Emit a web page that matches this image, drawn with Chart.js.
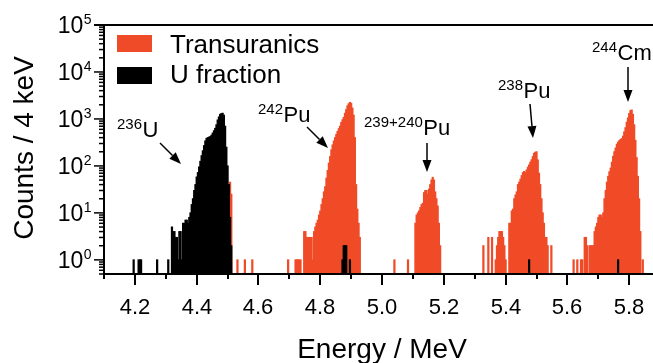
<!DOCTYPE html>
<html>
<head>
<meta charset="utf-8">
<script src="https://cdn.jsdelivr.net/npm/chart.js@4.4.1/dist/chart.umd.min.js"></script>
<style>
  html, body { margin: 0; padding: 0; background: #fff; }
  #wrap { width: 653px; height: 363px; }
</style>
</head>
<body>
<div id="wrap"><canvas id="mychart" width="653" height="363"></canvas></div>
<script>
// counts per 4 keV bin
// U fraction: main 236U peak, first bin at 4.320 MeV
const uStart = 4.320;
const uCounts = [5, 4, 4, 3, 3, 1, 4, 4, 1, 6, 6, 7, 7, 6, 8, 10, 15, 20, 30, 40,
  58, 72, 95, 125, 165, 210, 270, 340, 385, 400, 410, 420, 450, 500, 560, 630, 750, 950, 1100, 1250,
  1300, 1320, 1200, 700, 250, 100, 40, 8, 2];
// stray U counts
const uExtraE = [4.196, 4.212, 4.216, 4.220, 4.272, 4.308, 4.872, 4.876, 4.880, 4.884, 4.896, 5.476, 5.764];
const uExtraN = [1, 1, 1, 1, 1, 1, 1, 2, 2, 2, 1, 1, 1];

// Transuranics
const pu242Start = 4.748;
const pu242Counts = [4, 4, 3, 3, 3, 3, 3, 1, 4, 5, 6, 7, 9, 11, 15, 20, 28, 36, 55, 80,
  115, 158, 220, 280, 340, 400, 470, 540, 620, 700, 840, 960, 1080, 1320, 1580, 1900, 2100, 2250, 2150, 1700,
  1200, 400, 40, 12, 6, 3];
const pu239Start = 5.108;
const pu239Counts = [6, 9, 10, 11, 13, 15, 16, 27, 30, 30, 25, 32, 40, 50, 57, 50, 28, 20, 14, 6, 2];
const pu238Start = 5.328;
const pu238Counts = [2, 0, 0, 0, 3, 0, 0, 3, 0, 0, 1, 2, 3, 4, 4, 4, 3, 2, 1, 0,
  0, 6, 6, 11, 12, 20, 24, 28, 40, 45, 52, 62, 72, 76, 72, 82, 94, 105, 120, 135,
  158, 185, 195, 200, 134, 70, 40, 20, 10, 6, 3, 3, 2, 0, 0, 2];
const cm244Start = 5.620;
const cm244Counts = [1, 0, 0, 1, 0, 0, 1, 1, 0, 3, 3, 2, 0, 2, 2, 2, 2, 4, 5, 6,
  8, 9, 9, 8, 10, 20, 30, 45, 60, 75, 90, 120, 160, 200, 240, 290, 320, 345, 365, 380,
  430, 530, 650, 850, 1050, 1300, 1500, 1550, 1250, 750, 350, 150, 60, 20, 4, 0, 1];
const tuExtraE = [4.508, 4.512, 4.532, 4.556, 4.580, 4.696, 4.720, 4.724, 4.728, 4.732, 4.736, 5.040, 5.084];
const tuExtraN = [45, 25, 1, 1, 1, 1, 1, 1, 1, 1, 1, 1, 1];

// axes
const xMajor = [4.2, 4.4, 4.6, 4.8, 5.0, 5.2, 5.4, 5.6, 5.8];
const xMajorLabels = ['4.2', '4.4', '4.6', '4.8', '5.0', '5.2', '5.4', '5.6', '5.8'];
const xMinor = [4.1, 4.3, 4.5, 4.7, 4.9, 5.1, 5.3, 5.5, 5.7];
const yDecades = [0, 1, 2, 3, 4, 5];

const binWidth = 0.004;
const RED = '#F04B28';
const FONT = '"Liberation Sans", Arial, sans-serif';

const bin = e => Math.round(e * 1000) / 1000;

function addPeak(out, start, counts) {
  counts.forEach((n, i) => {
    if (n > 0) out.push({ x: bin(start + i * binWidth), y: n });
  });
}
function addExtra(out, es, ns) {
  es.forEach((e, i) => out.push({ x: bin(e), y: ns[i] }));
}

var uData = [];
addPeak(uData, uStart, uCounts);
addExtra(uData, uExtraE, uExtraN);

var tuData = [];
addPeak(tuData, pu242Start, pu242Counts);
addPeak(tuData, pu239Start, pu239Counts);
addPeak(tuData, pu238Start, pu238Counts);
addPeak(tuData, cm244Start, cm244Counts);
addExtra(tuData, tuExtraE, tuExtraN);

function supText(ctx, sup, main, x, y, supPx, mainPx) {
  ctx.font = supPx + 'px ' + FONT;
  ctx.fillText(sup, x, y - 8);
  var w = ctx.measureText(sup).width;
  ctx.font = mainPx + 'px ' + FONT;
  ctx.fillText(main, x + w + 0.5, y);
}

function arrow(ctx, x1, y1, x2, y2) {
  var ang = Math.atan2(y2 - y1, x2 - x1);
  var hl = 12, hw = 4.5;
  var bx = x2 - hl * Math.cos(ang), by = y2 - hl * Math.sin(ang);
  ctx.lineWidth = 1.5;
  ctx.beginPath();
  ctx.moveTo(x1, y1);
  ctx.lineTo(bx, by);
  ctx.stroke();
  ctx.beginPath();
  ctx.moveTo(x2, y2);
  ctx.lineTo(bx + hw * Math.sin(ang), by - hw * Math.cos(ang));
  ctx.lineTo(bx - hw * Math.sin(ang), by + hw * Math.cos(ang));
  ctx.closePath();
  ctx.fill();
}

const decorations = {
  id: 'decorations',
  afterDraw(chart) {
    const ctx = chart.ctx;
    const xs = chart.scales.x, ys = chart.scales.y;
    const a = chart.chartArea;
    ctx.save();
    ctx.fillStyle = '#000';
    ctx.strokeStyle = '#000';

    // frame
    ctx.lineWidth = 2;
    ctx.beginPath();
    ctx.moveTo(a.left - 1, a.top); ctx.lineTo(a.right, a.top);
    ctx.moveTo(a.left, a.top); ctx.lineTo(a.left, a.bottom + 1);
    ctx.moveTo(a.left - 1, a.bottom); ctx.lineTo(a.right, a.bottom);
    ctx.stroke();

    // x ticks
    ctx.textAlign = 'center';
    ctx.textBaseline = 'alphabetic';
    ctx.font = '22px ' + FONT;
    xMajor.forEach((v, i) => {
      const px = Math.round(xs.getPixelForValue(v));
      ctx.beginPath(); ctx.moveTo(px, a.bottom); ctx.lineTo(px, a.bottom + 11); ctx.stroke();
      ctx.fillText(xMajorLabels[i], px, 314);
    });
    xMinor.forEach(v => {
      const px = Math.round(xs.getPixelForValue(v));
      ctx.beginPath(); ctx.moveTo(px, a.bottom); ctx.lineTo(px, a.bottom + 5); ctx.stroke();
    });

    // y ticks
    ctx.lineWidth = 1.5;
    for (let d = -1; d <= 4; d++) {
      for (let k = 1; k <= 9; k++) {
        const v = k * Math.pow(10, d);
        if (v < ys.min || v > ys.max) continue;
        const py = ys.getPixelForValue(v);
        const len = k === 1 ? 10 : 5;
        ctx.beginPath(); ctx.moveTo(a.left, py); ctx.lineTo(a.left - len, py); ctx.stroke();
      }
    }
    ctx.lineWidth = 2;
    ctx.beginPath();
    const ptop = ys.getPixelForValue(1e5);
    ctx.moveTo(a.left, ptop); ctx.lineTo(a.left - 10, ptop); ctx.stroke();

    ctx.textAlign = 'left';
    yDecades.forEach(e => {
      const py = ys.getPixelForValue(Math.pow(10, e));
      ctx.font = '14px ' + FONT;
      const ws = ctx.measureText(String(e)).width;
      ctx.font = '23px ' + FONT;
      const wb = ctx.measureText('10').width;
      const x0 = 91 - ws - wb;
      ctx.fillText('10', x0, py + 8);
      ctx.font = '14px ' + FONT;
      ctx.fillText(String(e), x0 + wb + 0.5, py - 1);
    });

    // axis titles
    ctx.font = '28px ' + FONT;
    ctx.textAlign = 'center';
    ctx.fillText('Energy / MeV', 382, 358);
    ctx.save();
    ctx.translate(33, 148);
    ctx.rotate(-Math.PI / 2);
    ctx.fillText('Counts / 4 keV', 0, 0);
    ctx.restore();

    // legend
    ctx.textAlign = 'left';
    ctx.fillStyle = RED;
    ctx.fillRect(117, 35, 35, 17);
    ctx.fillStyle = '#000';
    ctx.fillRect(117, 67, 35, 17);
    ctx.font = '26px ' + FONT;
    ctx.fillText('Transuranics', 170, 53);
    ctx.fillText('U fraction', 170, 83);

    // peak labels
    supText(ctx, '236', 'U', 117, 137, 15, 22);
    supText(ctx, '242', 'Pu', 258, 122, 15, 22);
    supText(ctx, '239+240', 'Pu', 364, 135, 15, 22);
    supText(ctx, '238', 'Pu', 498, 98, 15, 22);
    supText(ctx, '244', 'Cm', 592, 60, 15, 22);

    arrow(ctx, 160, 143, 181, 164);
    arrow(ctx, 307, 127, 328, 148);
    arrow(ctx, 427, 143, 427, 172);
    arrow(ctx, 530, 104, 533, 138);
    arrow(ctx, 628, 67, 628, 102);

    ctx.restore();
  }
};

var ctx = document.getElementById('mychart');
var myChart = new Chart(ctx, {
  type: 'bar',
  data: {
    datasets: [
      {
        label: 'U fraction',
        data: uData,
        backgroundColor: '#000000',
        borderWidth: 0,
        inflateAmount: 0.5,
        grouped: false,
        barPercentage: 1,
        categoryPercentage: 1
      },
      {
        label: 'Transuranics',
        data: tuData,
        backgroundColor: RED,
        borderWidth: 0,
        inflateAmount: 0.5,
        grouped: false,
        barPercentage: 1,
        categoryPercentage: 1
      }
    ]
  },
  options: {
    responsive: false,
    animation: false,
    layout: { padding: { left: 104, top: 25, right: 0, bottom: 89 } },
    plugins: {
      legend: { display: false },
      tooltip: { enabled: false }
    },
    scales: {
      x: { type: 'linear', min: 4.1, max: 5.877, offset: false, display: false, grid: { offset: false } },
      y: { type: 'logarithmic', min: 0.5, max: 100000, display: false }
    }
  },
  plugins: [decorations]
});
</script>
</body>
</html>
